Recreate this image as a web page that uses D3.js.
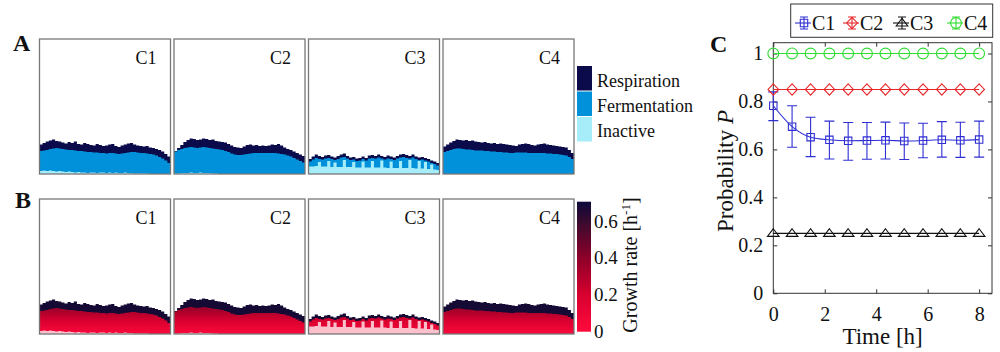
<!DOCTYPE html>
<html><head><meta charset="utf-8">
<script src="https://cdn.jsdelivr.net/npm/d3@7"></script>
<style>body{margin:0;background:#fff}svg{display:block}text{font-family:"Liberation Serif","Times New Roman",serif}</style>
</head><body><svg id="c" width="1000" height="352"></svg>
<script>
// ---------- data ----------
const conditions = ["C1","C2","C3","C4"];
// colony surface profiles (height units, 42 columns across the frame)
const c1Resp = [29.5,31,32.5,33.5,34.5,33,32.5,31.5,30.5,32,31,32.5,30,29.5,31,30,29,28.5,30,29,28,28.5,29.5,30,28,27,28.5,29.5,30.5,31,29.5,28.5,28,27.5,28,26.5,26,25,24,22.5,20,17.5];
const c1Ferm = [23,23.5,24,25,25.5,26,25.5,25,24.5,24,24,23.5,23,23,22.5,22,22,21.5,21.5,21,21,20.5,21,21,20.5,20,20.5,21,21.5,22,22,21.5,21,21,20.5,20,19.5,18.5,17,15.5,13.5,11];
const c1Inact = [3,3.5,3,3.5,3,2.5,3,2.5,2,2.5,2,1.5,2,1.5,1.5,1,1.5,1.5,1,1.5,1.5,1,1.5,1,1.5,1,1,1.5,1,1,0.5,0.5,0.5,0.5,0.5,0,0,0,0,0,0,0];
const c2Resp = [23,26,29,32,34,35.5,35,34,34.5,35.5,35,34,34.5,33,32.5,32,31.5,30,28.5,27,26.5,26,27.5,29,29.5,28.5,29,28,28.5,28,28.5,29.5,29,30,28.5,26.5,25,24,22.5,21,19.5,18];
const c2Ferm = [22.5,24,25,26,26.5,27,26.5,26,26.5,27,26.5,26,25.5,25,24.5,24,23,22,20.5,19.5,19,19,19.5,20,20.5,21,21,21,21,21,21,21,21,20.5,20,19.5,18.5,17.5,16,14.5,13,11.5];
const c2Inact = [0.5,0.5,1,1,1,1.5,1,1,1.5,1,1,1,0.5,0.5,0,0,0,0,0,0,0,0,0,0,0,0,0,0,0,0,0,0,0,0,0,0,0,0,0,0,0,0];
const c3Resp = [15,17.5,19.5,18,17,18.5,19,17.5,16.5,18,19.5,20.5,18,16.5,17,15.5,16,17.5,16,18.5,19,18,19.5,18,17,18.5,17.5,16.5,18,19.5,20,19,18,19.5,17.5,16.5,17,16,15,13.5,12.5,11];
const c3Ferm = [12.5,14.5,16,15,14.5,15.5,16,15,14,15,16.5,17,15.5,14,14.5,13,13.5,15,13.5,15.5,16,15.5,16.5,15.5,14.5,15.5,15,14,15.5,16.5,17,16,15.5,16.5,15,14,14.5,13.5,12.5,11,10,8.5];
const c3Inact = [7.5,7.5,8,12,7.5,7.5,13,7,11.5,7,7,14,7,7,12,6.5,6.5,12.5,6.5,6.5,13,6.5,6.5,13.5,6.5,6,12.5,6,6,13,6,6,14,6,5.5,13,5.5,12,5,9.5,4.5,4];
const c4Resp = [27.5,29.5,31.5,33,34.5,34,33.5,34,33,33.5,32.5,32,31.5,32,31,30.5,31,30,30.5,30,29.5,29,28.5,28,29.5,30,30.5,30,29,28.5,29.5,30,30.5,29.5,29,28.5,28,27.5,27,26.5,24,21];
const c4Ferm = [22,23,24,25,25.5,25.5,25,24.5,24.5,24,23.5,23.5,23.5,23,23,22.5,22.5,22,22,21.5,21.5,21,21,21.5,21.5,21.5,21.5,21,21,21,21,21,21,20.5,20.5,20,20,19.5,19,18.5,17,15];
const c4Inact = [0,0,0,0,0,0,0,0,0,0,0,0,0,0,0,0,0,0,0,0,0,0,0,0,0,0,0,0,0,0,0,0,0,0,0,0,0,0,0,0,0,0];
const respProfiles = [c1Resp,c2Resp,c3Resp,c4Resp];
const fermProfiles = [c1Ferm,c2Ferm,c3Ferm,c4Ferm];
const inactProfiles = [c1Inact,c2Inact,c3Inact,c4Inact];
const stateLabels = ["Respiration","Fermentation","Inactive"];
const growthTicks = [0,0.2,0.4,0.6];
const growthMax = 0.71;
const growthStops = [0,0.2,0.4,0.6,0.71];
const growthColors = ["#ff0a3c","#d8002f","#8e0029","#3a0a2e","#0c0a3a"];
// panel C
const timeH = [0,0.73,1.45,2.18,2.91,3.64,4.36,5.09,5.82,6.55,7.27,8.0];
const pC1 = [0.782,0.695,0.651,0.640,0.636,0.637,0.638,0.635,0.637,0.640,0.638,0.641];
const pC1Lo = [0.72,0.609,0.570,0.560,0.555,0.559,0.560,0.558,0.565,0.568,0.567,0.568];
const pC1Hi = [0.84,0.782,0.734,0.718,0.712,0.712,0.714,0.710,0.709,0.716,0.713,0.718];
const pC2 = [0.85,0.85,0.85,0.85,0.85,0.85,0.85,0.85,0.85,0.85,0.85,0.85];
const pC3 = [0.25,0.25,0.25,0.25,0.25,0.25,0.25,0.25,0.25,0.25,0.25,0.25];
const pC4 = [1,1,1,1,1,1,1,1,1,1,1,1];
const xTicks = [0,2,4,6,8];
const yTicks = [0,0.2,0.4,0.6,0.8,1];

// ---------- drawing ----------
const svg = d3.select("#c");
const serif = '"Liberation Serif","Times New Roman",serif';
const colA = {resp:"#0b0b4b", ferm:"#0091da", inact:"#a6ecf9"};
const growthColor = d3.scaleLinear().domain(growthStops).range(growthColors);

const boxW = 131, boxH = 135, box0 = 39.5, boxStep = 134.5;
const rowsY = [39, 199];
const N = 42;
const defs = svg.append("defs");

function panelRow(rowIdx){
  const by = rowsY[rowIdx];
  conditions.forEach((name,ci)=>{
    const bx = box0 + ci*boxStep;
    const x = d3.scaleLinear().domain([0,N]).range([bx,bx+boxW]);
    const y = d3.scaleLinear().domain([0,135]).range([by+boxH,by]);
    const ext = arr => arr.concat([arr[arr.length-1]]);
    const area = d3.area().curve(d3.curveStepAfter).x((d,i)=>x(i)).y0(y(0)).y1(d=>y(d));
    const g = svg.append("g");
    if(rowIdx===0){
      g.append("path").attr("d",area(ext(respProfiles[ci]))).attr("fill",colA.resp);
      g.append("path").attr("d",area(ext(fermProfiles[ci]))).attr("fill",colA.ferm);
      g.append("path").attr("d",area(ext(inactProfiles[ci]))).attr("fill",colA.inact);
    } else {
      const gid = "gB"+ci;
      const lg = defs.append("linearGradient").attr("id",gid).attr("gradientUnits","userSpaceOnUse")
        .attr("x1",0).attr("x2",0).attr("y1",y(0)).attr("y2",y(27));
      lg.append("stop").attr("offset",0).attr("stop-color",growthColor(0.02));
      lg.append("stop").attr("offset",0.5).attr("stop-color",growthColor(0.2));
      lg.append("stop").attr("offset",1).attr("stop-color",growthColor(0.38));
      g.append("path").attr("d",area(ext(respProfiles[ci]))).attr("fill","#150a33");
      g.append("path").attr("d",area(ext(fermProfiles[ci]))).attr("fill",`url(#${gid})`);
      g.append("path").attr("d",area(ext(inactProfiles[ci]))).attr("fill","#fff").attr("opacity",0.75);
    }
    g.append("rect").attr("x",bx).attr("y",by).attr("width",boxW).attr("height",boxH)
      .attr("fill","none").attr("stroke","#777").attr("stroke-width",1.3);
    g.append("text").attr("x",bx+boxW-14).attr("y",by+25).attr("text-anchor","end")
      .attr("font-size",18).attr("fill","#111").text(name);
  });
}
panelRow(0); panelRow(1);

// panel letters
[["A",13,51],["B",15,208],["C",710,52]].forEach(([t,x,y])=>{
  svg.append("text").attr("x",x).attr("y",y).attr("font-size",24).attr("font-weight","bold").attr("fill","#111").text(t);
});

// legend A
const legCols = [colA.resp,colA.ferm,colA.inact];
stateLabels.forEach((s,i)=>{
  svg.append("rect").attr("x",577).attr("y",66+i*25.5).attr("width",15).attr("height",24.5).attr("fill",legCols[i]);
  svg.append("text").attr("x",597).attr("y",86.5+i*25).attr("font-size",18).attr("fill","#111").text(s);
});

// colorbar B
const cbY = d3.scaleLinear().domain([0,growthMax]).range([331.7,201.7]);
const cbg = defs.append("linearGradient").attr("id","cbar").attr("x1",0).attr("x2",0).attr("y1",1).attr("y2",0);
growthStops.forEach((v,i)=>cbg.append("stop").attr("offset",v/growthMax).attr("stop-color",growthColors[i]));
svg.append("rect").attr("x",577).attr("y",cbY(growthMax)).attr("width",14).attr("height",cbY(0)-cbY(growthMax)).attr("fill","url(#cbar)");
growthTicks.forEach(t=>{
  svg.append("text").attr("x",594).attr("y",cbY(t)+6).attr("font-size",19).attr("fill","#111").text(t===0?"0":t.toFixed(1));
});
svg.append("text").attr("transform","translate(637,265) rotate(-90)").attr("text-anchor","middle")
  .attr("font-size",20).attr("fill","#111")
  .html('Growth rate [h<tspan dy="-7" font-size="13">-1</tspan><tspan dy="7">]</tspan>');

// ---------- panel C ----------
const L=773.3, R=992, T=42.7, B=293.3;
const xs = d3.scaleLinear().domain([0,8.5]).range([L,R]);
const ys = d3.scaleLinear().domain([0,1.045]).range([B,T]);
const gc = svg.append("g");
const fmt = d=> (d===0||d===1)? String(d) : d.toFixed(1);
const axL = gc.append("g").attr("transform",`translate(${L},0)`).call(d3.axisLeft(ys).tickValues(yTicks).tickFormat(fmt).tickSize(-4).tickPadding(10));
const axB = gc.append("g").attr("transform",`translate(0,${B})`).call(d3.axisBottom(xs).tickValues(xTicks).tickSize(-4).tickPadding(14));
const axT = gc.append("g").attr("transform",`translate(0,${T})`).call(d3.axisTop(xs).tickValues(xTicks).tickSize(-4).tickFormat(""));
const axR = gc.append("g").attr("transform",`translate(${R},0)`).call(d3.axisRight(ys).tickValues(yTicks).tickSize(-4).tickFormat(""));
[axL,axB,axT,axR].forEach(a=>{
  a.select(".domain").remove();
  a.selectAll("line").attr("stroke","#333");
  a.selectAll("text").attr("font-family",serif).attr("font-size",20).attr("fill","#111");
});
gc.append("rect").attr("x",L).attr("y",T).attr("width",R-L).attr("height",B-T).attr("fill","none").attr("stroke","#333").attr("stroke-width",1);
gc.append("text").attr("x",(L+R)/2).attr("y",344).attr("text-anchor","middle").attr("font-size",23).attr("fill","#111").text("Time [h]");
gc.append("text").attr("transform",`translate(733,${(B+T)/2+3}) rotate(-90)`).attr("text-anchor","middle").attr("font-size",23).attr("fill","#111")
  .html('Probability <tspan font-style="italic">P</tspan>');

function marker(type,cx,cy){
  if(type==="square") return `M${cx-3.7},${cy-3.7}h7.4v7.4h-7.4Z`;
  if(type==="diamond") return `M${cx},${cy-5.7}L${cx+5.3},${cy}L${cx},${cy+5.7}L${cx-5.3},${cy}Z`;
  if(type==="triangle") return `M${cx},${cy-4.6}L${cx+5.8},${cy+3}L${cx-5.8},${cy+3}Z`;
  return `M${cx-5.4},${cy}a5.4,5.4 0 1,0 10.8,0a5.4,5.4 0 1,0 -10.8,0Z`;
}
const seriesC = [
  {name:"C1", vals:pC1, color:"#2f2fd4", m:"square", curve:d3.curveMonotoneX, lo:pC1Lo, hi:pC1Hi},
  {name:"C2", vals:pC2, color:"#e8262a", m:"diamond", curve:d3.curveLinear},
  {name:"C3", vals:pC3, color:"#111111", m:"triangle", curve:d3.curveLinear},
  {name:"C4", vals:pC4, color:"#2fdc2f", m:"circle", curve:d3.curveLinear}
];
seriesC.forEach(s=>{
  const g = gc.append("g");
  const line = d3.line().curve(s.curve).x((d,i)=>xs(timeH[i])).y(d=>ys(d));
  g.append("path").attr("d",line(s.vals)).attr("fill","none").attr("stroke",s.color).attr("stroke-width",1.1);
  if(s.lo){
    s.vals.forEach((v,i)=>{
      const cx=xs(timeH[i]), y1=ys(s.lo[i]), y2=ys(s.hi[i]);
      g.append("path").attr("d",`M${cx},${y1}V${y2}M${cx-5},${y1}H${cx+5}M${cx-5},${y2}H${cx+5}`)
        .attr("stroke",s.color).attr("stroke-width",1.1).attr("fill","none");
    });
  }
  s.vals.forEach((v,i)=>{
    g.append("path").attr("d",marker(s.m,xs(timeH[i]),ys(v))).attr("fill","none").attr("stroke",s.color).attr("stroke-width",1.1);
  });
});

// legend C
const lg = svg.append("g");
lg.append("rect").attr("x",790.7).attr("y",4).attr("width",202).attr("height",33.3).attr("fill","#fff").attr("stroke","#333").attr("stroke-width",1);
const legX = [795,843,893,947];
seriesC.forEach((s,i)=>{
  const x0 = legX[i], cy = 23, cx = x0+9;
  lg.append("path").attr("d",`M${x0},${cy}H${x0+16}`).attr("stroke",s.color).attr("stroke-width",1.1);
  lg.append("path").attr("d",`M${cx},${cy-6}V${cy+6}M${cx-4},${cy+6}H${cx+4}M${cx-4},${cy-6}H${cx+4}`).attr("stroke",s.color).attr("stroke-width",1.1).attr("fill","none");
  lg.append("path").attr("d",marker(s.m,cx,cy)).attr("fill","none").attr("stroke",s.color).attr("stroke-width",1.1);
  lg.append("text").attr("x",x0+17).attr("y",30).attr("font-size",20).attr("fill","#111").text(s.name);
});
</script></body></html>
